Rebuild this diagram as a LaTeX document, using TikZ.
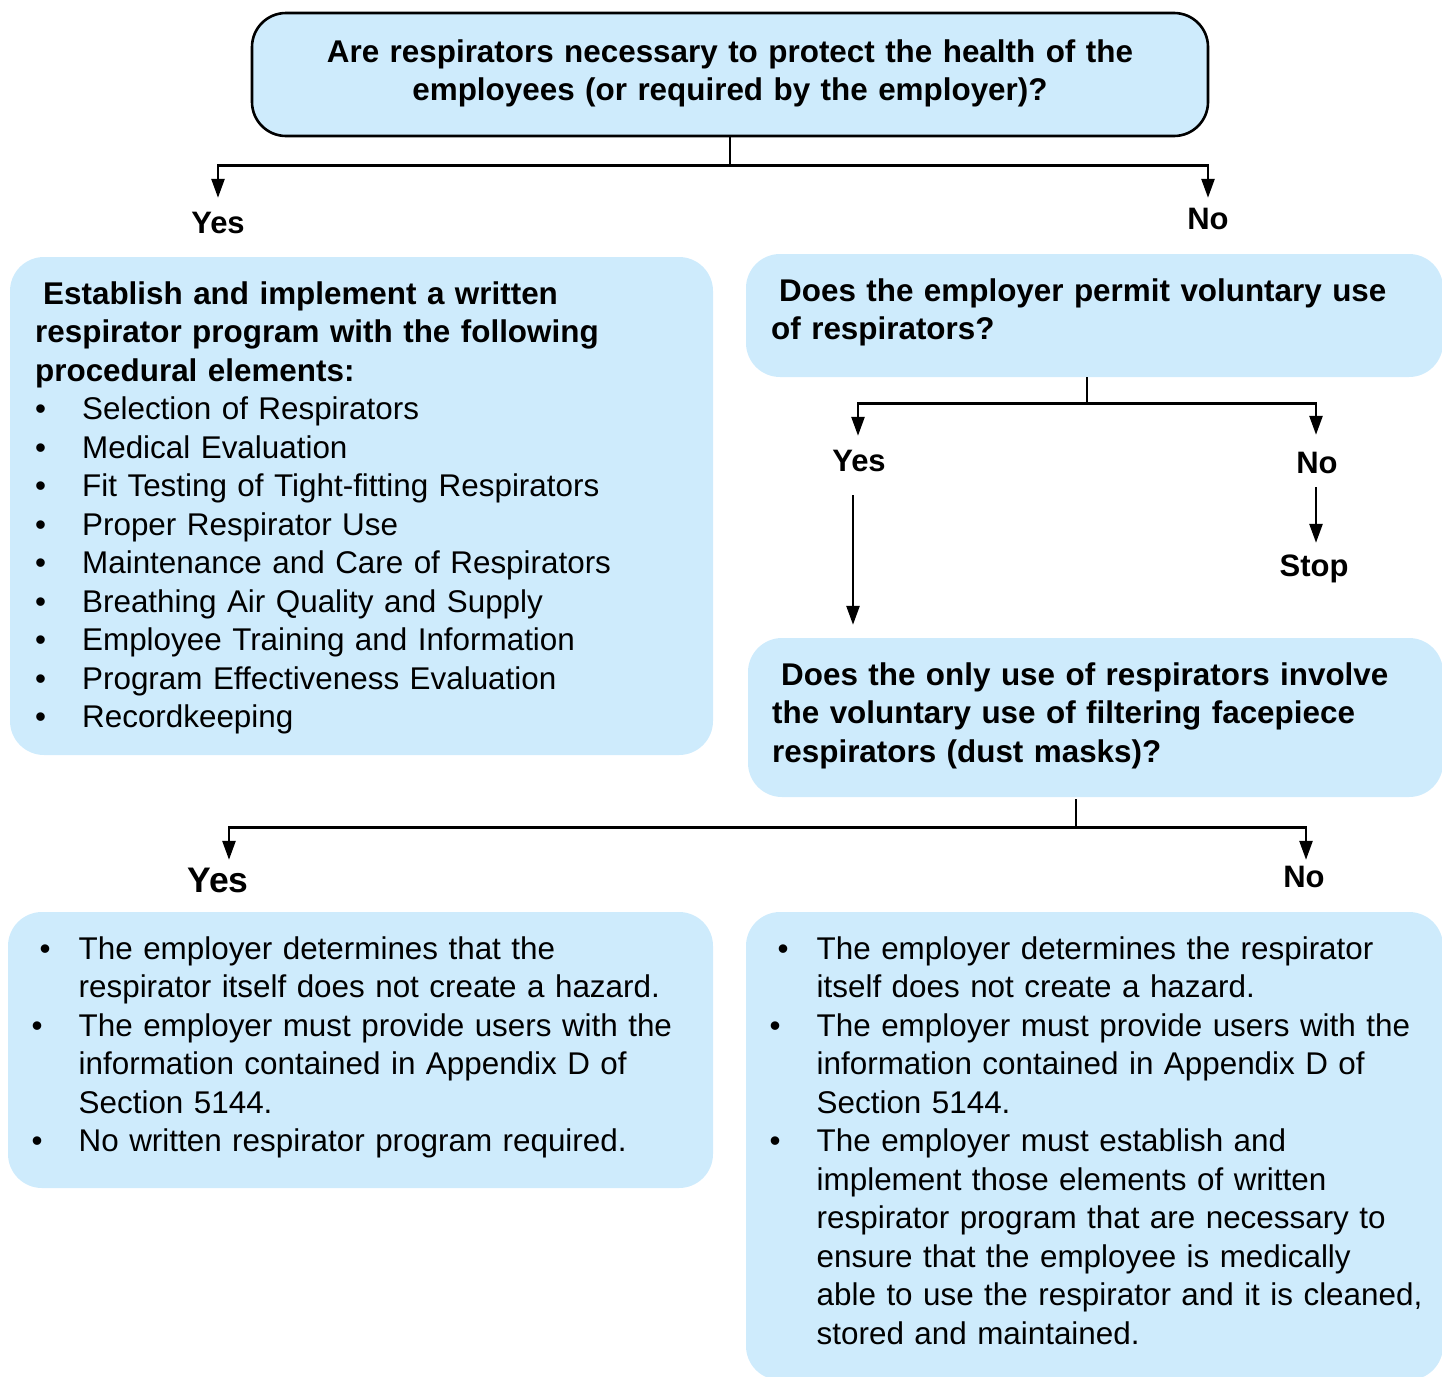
\documentclass[tikz,border=0pt]{standalone}
\usepackage{fontspec}
\setmainfont{Liberation Sans}
\usetikzlibrary{arrows.meta}
\definecolor{boxblue}{RGB}{206,235,252}
\newcommand\bu{\makebox[47pt][l]{•}}
\newcommand\bufirst{\hspace*{8pt}\makebox[39pt][l]{•}}
\newcommand\ind{\hspace*{47pt}}
\newcommand\fst{\rule{0pt}{26pt}}
\begin{document}
\begin{tikzpicture}[x=1pt,y=-1pt,
  box/.style={fill=boxblue, rounded corners=34pt, inner sep=0pt},
  conn/.style={line width=2.6pt},
  arr/.style={conn, -{Triangle[width=13pt,length=19pt]}},
  lab/.style={font=\bfseries\fontsize{31}{31}\selectfont, inner sep=0pt, text height=23pt, text depth=0pt, anchor=base},
  biglab/.style={font=\bfseries\fontsize{35.5}{35.5}\selectfont, inner sep=0pt, text height=26pt, text depth=0pt, anchor=base},
  txt/.style={font=\fontsize{31.4}{38.5}\selectfont, inner sep=0pt, anchor=north west, text width=#1, align=left},
  btxt/.style={txt=#1, font=\bfseries\fontsize{31.4}{38.5}\selectfont},
]
\useasboundingbox (0,0) rectangle (1442,1376);
\clip (0,0) rectangle (1442,1376);

% boxes
\node[box, draw=black, line width=2.6pt, minimum width=956pt, minimum height=123pt] (q1) at (730,74.5) {};
\node[box, minimum width=703pt, minimum height=498pt] (a1) at (361.5,506) {};
\node[box, minimum width=697pt, minimum height=123pt] (q2) at (1094.5,315.5) {};
\node[box, minimum width=695pt, minimum height=159pt] (q3) at (1095.5,717.5) {};
\node[box, minimum width=705pt, minimum height=276pt] (a3) at (360.5,1050) {};
\node[box, minimum width=697pt, minimum height=468pt] (a4) at (1094.5,1146) {};

% texts
\node[btxt=940pt, align=center, anchor=north] (t1) at (730,36)
  {\fst Are respirators necessary to protect the health of the\\employees (or required by the employer)?};

\node[txt=670pt] (ta1) at (35,278)
  {{\bfseries\hspace*{8pt}\fst Establish and implement a written\\
   respirator program with the following\\
   procedural elements:}\\
   \bu Selection of Respirators\\
   \bu Medical Evaluation\\
   \bu Fit Testing of Tight-fitting Respirators\\
   \bu Proper Respirator Use\\
   \bu Maintenance and Care of Respirators\\
   \bu Breathing Air Quality and Supply\\
   \bu Employee Training and Information\\
   \bu Program Effectiveness Evaluation\\
   \bu Recordkeeping};

\node[btxt=700pt] (tq2) at (771,275)
  {\hspace*{8pt}\fst Does the employer permit voluntary use\\of respirators?};

\node[btxt=700pt] (tq3) at (772,659)
  {\hspace*{9pt}\fst Does the only use of respirators involve\\the voluntary use of filtering facepiece\\respirators (dust masks)?};

\node[txt=680pt] (ta3) at (31.5,933)
  {\bufirst\fst The employer determines that the\\
   \ind respirator itself does not create a hazard.\\
   \bu The employer must provide users with the\\
   \ind information contained in Appendix D of\\
   \ind Section 5144.\\
   \bu No written respirator program required.};

\node[txt=720pt] (ta4) at (769.5,933)
  {\bufirst\fst The employer determines the respirator\\
   \ind itself does not create a hazard.\\
   \bu The employer must provide users with the\\
   \ind information contained in Appendix D of\\
   \ind Section 5144.\\
   \bu The employer must establish and\\
   \ind implement those elements of written\\
   \ind respirator program that are necessary to\\
   \ind ensure that the employee is medically\\
   \ind able to use the respirator and it is cleaned,\\
   \ind stored and maintained.};

% labels
\node[lab] (yes1) at (218,233.5) {Yes};
\node[lab] (no1) at (1208,229.5) {No};
\node[lab] (yes2) at (859,471) {Yes};
\node[lab] (no2) at (1317,473) {No};
\node[lab] (stop) at (1314,576) {Stop};
\node[biglab] (yes3) at (218,892) {Yes};
\node[lab] (no3) at (1304,887) {No};

% connectors
\draw[conn] (q1.south) -- ++(0,28) coordinate (j1);
\draw[arr, shorten >=12.5pt] (j1) -| (yes1.north);
\draw[arr, shorten >=8.5pt] (j1) -| (no1.north);

\draw[conn] ([xshift=-7.5pt]q2.south) -- ++(0,26) coordinate (j2);
\draw[arr, shorten >=12pt] (j2) -| ([xshift=-1pt]yes2.north);
\draw[arr, shorten >=15pt] (j2) -| ([xshift=-1pt]no2.north);
\draw[arr, shorten <=14pt, shorten >=10pt] ([xshift=-1pt]no2.south) -- ([xshift=-1pt]no2.south |- stop.north);
\draw[arr, shorten <=24pt, shorten >=13pt] ([xshift=-6pt]yes2.south) -- ([xshift=-6pt]yes2.south |- q3.north);

\draw[conn, shorten <=2pt] ([xshift=-19.5pt]q3.south) -- ++(0,30) coordinate (j3);
\draw[arr, shorten >=6pt] (j3) -| ([xshift=11pt]yes3.north);
\draw[arr, shorten >=4pt] (j3) -| ([xshift=2pt]no3.north);
\end{tikzpicture}
\end{document}
